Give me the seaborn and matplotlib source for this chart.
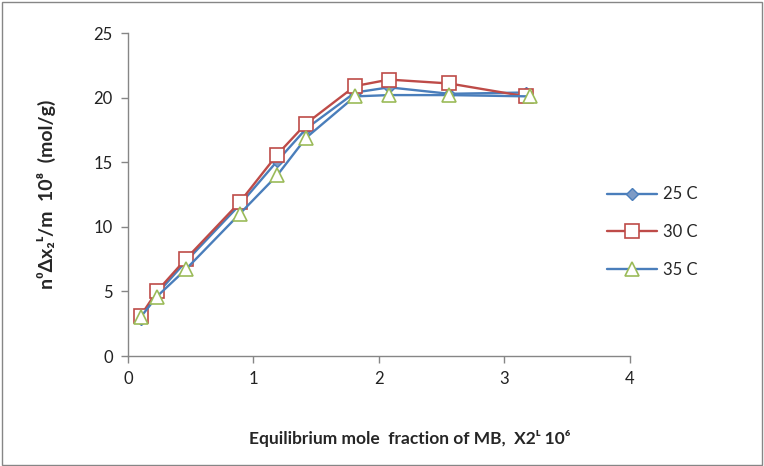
import numpy as np
import pandas as pd
import matplotlib
matplotlib.use('Agg')
import matplotlib.pyplot as plt
from matplotlib.patches import Rectangle
import seaborn as sns

# ---- data ----
x_25 = [0.10, 0.23, 0.46, 0.89, 1.19, 1.42, 1.81, 2.08, 2.56, 3.17]
y_25 = [2.9, 4.8, 7.3, 11.7, 15.1, 17.6, 20.4, 20.8, 20.3, 20.4]

x_30 = [0.10, 0.23, 0.46, 0.89, 1.19, 1.42, 1.81, 2.08, 2.56, 3.17]
y_30 = [3.1, 5.0, 7.5, 11.9, 15.6, 18.0, 20.9, 21.4, 21.1, 20.1]

x_35 = [0.10, 0.23, 0.46, 0.89, 1.19, 1.42, 1.81, 2.08, 2.56, 3.20]
y_35 = [3.0, 4.6, 6.7, 11.0, 14.0, 16.9, 20.1, 20.2, 20.2, 20.1]

series_labels = ['25 C', '30 C', '35 C']

sns.set_style('white')
plt.rcParams['font.family'] = ['Lato', 'DejaVu Sans']

fig = plt.figure(figsize=(7.64, 4.66), dpi=100)
ax = fig.add_axes([0.1675, 0.236, 0.657, 0.693])

df25 = pd.DataFrame({'x': x_25, 'y': y_25})
df30 = pd.DataFrame({'x': x_30, 'y': y_30})
df35 = pd.DataFrame({'x': x_35, 'y': y_35})

sns.lineplot(data=df25, x='x', y='y', ax=ax, color='#4A7EBB', linewidth=1.7,
             marker='D', markersize=6, markerfacecolor='#7D9BC6',
             markeredgecolor='#4A7EBB', markeredgewidth=1, label=series_labels[0])
sns.lineplot(data=df30, x='x', y='y', ax=ax, color='#BE4B48', linewidth=1.7,
             marker='s', markersize=10, markerfacecolor='white',
             markeredgecolor='#BE4B48', markeredgewidth=1.2, label=series_labels[1])
sns.lineplot(data=df35, x='x', y='y', ax=ax, color='#4A7EBB', linewidth=1.7,
             marker='^', markersize=10, markerfacecolor='white',
             markeredgecolor='#9BBB59', markeredgewidth=1.2, label=series_labels[2])

ax.set_xlim(0, 4)
ax.set_ylim(0, 25)
ax.set_xticks([0, 1, 2, 3, 4])
ax.set_yticks([0, 5, 10, 15, 20, 25])
ax.tick_params(axis='both', direction='out', length=5, width=1, color='#868686',
               labelsize=12, labelcolor='#222222', left=True, bottom=True, pad=6)

for s in ['top', 'right']:
    ax.spines[s].set_visible(False)
for s in ['left', 'bottom']:
    ax.spines[s].set_color('#868686')
    ax.spines[s].set_linewidth(1)

ax.set_xlabel('Equilibrium mole  fraction of MB,  X2ᴸ 10⁶', fontsize=12.5,
              fontweight='bold')
ax.xaxis.set_label_coords(0.562, -0.228)
ax.set_ylabel('n⁰Δx₂ᴸ/m  10⁸  (mol/g)', fontsize=14, fontweight='bold',
              labelpad=27)

ax.get_legend().remove()
handles, labels = ax.get_legend_handles_labels()
fig.legend(handles, labels, loc='center left', bbox_to_anchor=(0.775, 0.502),
           frameon=False, fontsize=12, labelspacing=1.3, handlelength=3.0,
           handletextpad=0.35)

fig.patches.append(Rectangle((0.002, 0.003), 0.995, 0.993, transform=fig.transFigure,
                             fill=False, edgecolor='#868686', linewidth=1))

plt.savefig('out.png', dpi=100)
